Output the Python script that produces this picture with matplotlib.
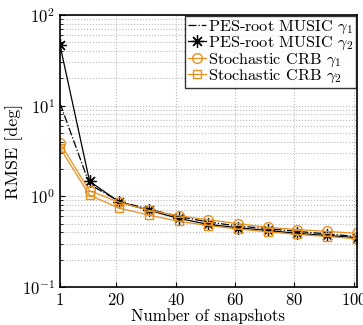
import matplotlib
matplotlib.use("Agg")
import matplotlib.pyplot as plt
from matplotlib.ticker import LogLocator, NullFormatter

plt.rcParams['font.family'] = 'serif'
plt.rcParams['font.serif'] = ['cmr10', 'DejaVu Serif']
plt.rcParams['mathtext.fontset'] = 'cm'
plt.rcParams['axes.formatter.use_mathtext'] = True

# snapshots and RMSE values
snapshots = [1, 11, 21, 31, 41, 51, 61, 71, 81, 91, 101]
music_g1 = [10.7, 1.35, 0.88, 0.72, 0.60, 0.52, 0.47, 0.44, 0.41, 0.385, 0.36]
music_g2 = [47.0, 1.46, 0.865, 0.70, 0.57, 0.49, 0.45, 0.42, 0.39, 0.37, 0.35]
crb_g1 = [3.87, 1.15, 0.86, 0.70, 0.61, 0.55, 0.50, 0.455, 0.43, 0.41, 0.39]
crb_g2 = [3.41, 1.03, 0.74, 0.62, 0.53, 0.475, 0.436, 0.405, 0.38, 0.36, 0.34]
xticks = [1, 20, 40, 60, 80, 100]

orange = '#E8901E'

fig = plt.figure(figsize=(3.63, 3.25), dpi=100)
ax = fig.add_axes([0.165, 0.117, 0.818, 0.837])

ax.semilogy(snapshots, music_g1, color='black', linestyle='-.', lw=0.9,
            label=r'PES-root MUSIC $\gamma_1$')
ax.semilogy(snapshots, music_g2, color='black', linestyle='-', lw=0.9,
            marker=(8, 2, 0), markersize=9, markeredgewidth=0.9,
            label=r'PES-root MUSIC $\gamma_2$')
ax.semilogy(snapshots, crb_g1, color=orange, linestyle='-', lw=0.9,
            marker='o', markersize=7, markerfacecolor='none',
            label=r'Stochastic CRB $\gamma_1$')
ax.semilogy(snapshots, crb_g2, color=orange, linestyle='-', lw=0.9,
            marker='s', markersize=6, markerfacecolor='none',
            label=r'Stochastic CRB $\gamma_2$')

ax.set_xlim(1, 101)
ax.set_ylim(0.1, 100)
ax.set_xticks(xticks)
ax.yaxis.set_minor_locator(LogLocator(base=10, subs=range(2, 10)))
ax.yaxis.set_minor_formatter(NullFormatter())
ax.grid(True, which='major', color='#b8b8b8', linestyle=':', lw=0.8)
ax.grid(True, which='minor', axis='y', color='#b8b8b8', linestyle=':', lw=0.8)
ax.tick_params(labelsize=12, direction='in', which='both')
for s in ax.spines.values():
    s.set_linewidth(1.2)

ax.set_xlabel('Number of snapshots', fontsize=12, labelpad=0)
ax.set_ylabel('RMSE [deg]', fontsize=13, labelpad=-1)

leg = ax.legend(loc='upper right', fontsize=11.7, frameon=True, fancybox=False,
                edgecolor='black', borderpad=0.15, labelspacing=-0.05,
                handlelength=1.1, handletextpad=0.15, borderaxespad=0.05)
leg.get_frame().set_linewidth(1.0)

fig.savefig('out.png', dpi=100)
